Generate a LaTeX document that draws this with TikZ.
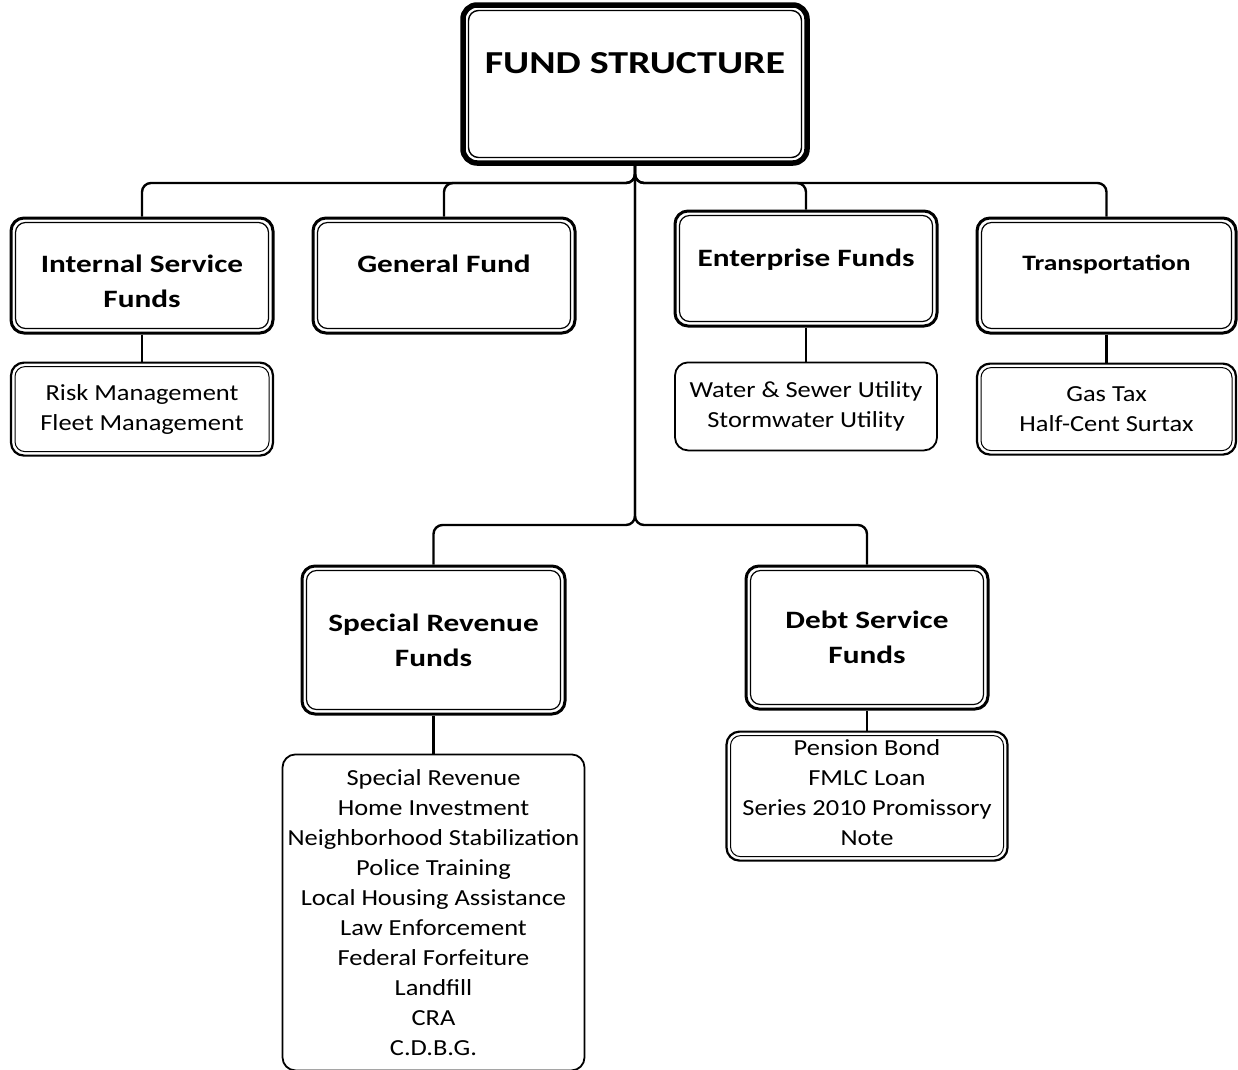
\documentclass[tikz,border=0pt]{standalone}
\usepackage{fontspec}
\setmainfont{Carlito}[FakeStretch=1.15]
\newfontfamily\headfont{Carlito}[FakeStretch=1.25]
\usetikzlibrary{positioning}
\newcommand{\lifted}[2]{\raisebox{#1}[0pt][0pt]{#2}}

\begin{document}
\begin{tikzpicture}[x=1pt,y=-1pt,
  node distance=27pt,
  topbox/.style={draw,line width=5.5pt,rounded corners=14pt,
              minimum width=344pt,minimum height=158pt,
              font=\headfont\bfseries\fontsize{32}{38}\selectfont,
              path picture={\draw[line width=1.4pt,rounded corners=10pt]
                ([shift={(5.5pt,-5.5pt)}]path picture bounding box.north west) rectangle
                ([shift={(-5.5pt,5.5pt)}]path picture bounding box.south east);}},
  head/.style={draw,line width=3pt,rounded corners=13pt,
              minimum width=262pt,minimum height=115pt,align=center,
              font=\headfont\bfseries\fontsize{25}{35}\selectfont,
              path picture={\draw[line width=1.2pt,rounded corners=10pt]
                ([shift={(4.5pt,-4.5pt)}]path picture bounding box.north west) rectangle
                ([shift={(-4.5pt,4.5pt)}]path picture bounding box.south east);}},
  sublist/.style={draw,line width=2.2pt,rounded corners=13pt,
              minimum width=262pt,align=center,
              font=\fontsize{23}{30}\selectfont,
              path picture={\draw[line width=1pt,rounded corners=10pt]
                ([shift={(4pt,-4pt)}]path picture bounding box.north west) rectangle
                ([shift={(-4pt,4pt)}]path picture bounding box.south east);}},
  plainlist/.style={draw,line width=1.8pt,rounded corners=13pt,
              minimum width=262pt,align=center,
              font=\fontsize{23}{30}\selectfont},
  link/.style={draw,line width=2.4pt,rounded corners=9pt}]
\useasboundingbox (0,0) rectangle (1238,1069);

% top level
\node[topbox] (fund) at (635,84) {\lifted{11pt}{FUND STRUCTURE}};

% first row of fund groups
\node[head] (isf) at (142,275.5)
  {\lifted{-14pt}{\begin{tabular}{@{}c@{}}Internal Service\\Funds\end{tabular}}};
\node[head] (gen) at (444,275.5) {\lifted{3pt}{General Fund}};
\node[head] (ent) at (806,268.5) {\lifted{2pt}{Enterprise Funds}};
\node[head,minimum width=259pt,font=\headfont\bfseries\fontsize{22}{30}\selectfont]
  (trn) at (1106.5,275.5) {\lifted{5pt}{Transportation}};

% second row of fund groups
\node[head,minimum width=263pt,minimum height=148pt] (srf) at (433.5,640) {Special Revenue\\Funds};
\node[head,minimum width=242pt,minimum height=143pt] (dsf) at (867,637.5) {Debt Service\\Funds};

% member funds
\node[sublist,below=27pt of isf,minimum height=93pt] (risk) {Risk Management\\Fleet Management};
\node[plainlist,below=34pt of ent,minimum height=88pt] (water) {Water \& Sewer Utility\\Stormwater Utility};
\node[sublist,below=28pt of trn,minimum width=259pt,minimum height=91pt] (gas) {Gas Tax\\Half-Cent Surtax};
\node[plainlist,below=38pt of srf,minimum width=302pt,minimum height=316pt,inner xsep=1pt] (srl)
  {Special Revenue\\Home Investment\\Neighborhood Stabilization\\Police Training\\
   Local Housing Assistance\\Law Enforcement\\Federal Forfeiture\\Landfill\\CRA\\C.D.B.G.};
\node[sublist,below=20pt of dsf,minimum width=281pt,minimum height=129pt] (debt)
  {\lifted{-5pt}{\begin{tabular}{@{}c@{}}Pension Bond\\FMLC Loan\\Series 2010 Promissory\\Note\end{tabular}}};

% connectors
\coordinate (bus) at (635,183);
\coordinate (lowbus) at (635,525);
\draw[link] (isf.north) |- (bus) -- (fund.south);
\draw[link] (gen.north) |- (bus) -- (fund.south);
\draw[link] (ent.north) |- (bus) -- (fund.south);
\draw[link] (trn.north) |- (bus) -- (fund.south);
\draw[link] (srf.north) |- (lowbus) -- (fund.south);
\draw[link] (dsf.north) |- (lowbus) -- (fund.south);
\draw[link] (isf) -- (risk);
\draw[link] (ent) -- (water);
\draw[link] (trn) -- (gas);
\draw[link] (srf) -- (srl);
\draw[link] (dsf) -- (debt);
\end{tikzpicture}
\end{document}
